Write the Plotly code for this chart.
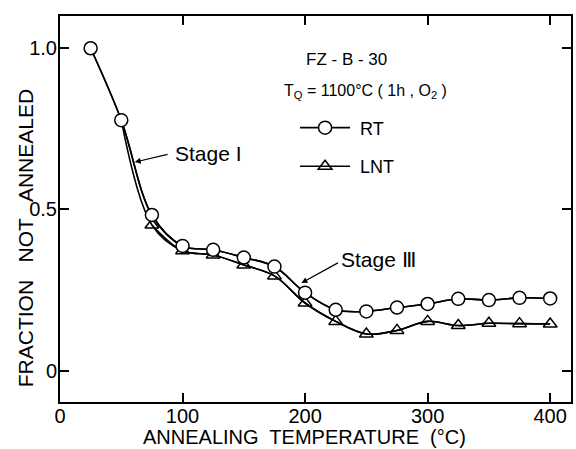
import plotly.graph_objects as go

temp_rt = [25, 50, 75, 100, 125, 150, 175, 200, 225, 250, 275, 300, 325, 350, 375, 400]
frac_rt = [1.0, 0.777, 0.483, 0.387, 0.375, 0.351, 0.323, 0.242, 0.189, 0.184, 0.196, 0.207, 0.223, 0.219, 0.226, 0.224]

temp_lnt = [75, 100, 125, 150, 175, 200, 225, 250, 275, 300, 325, 350, 375, 400]
frac_lnt = [0.452, 0.372, 0.359, 0.328, 0.294, 0.210, 0.153, 0.114, 0.125, 0.153, 0.140, 0.147, 0.146, 0.145]

x_ticks = [0, 100, 200, 300, 400]
y_ticks = [0, 0.5, 1.0]
y_tick_labels = ["0", "0.5", "1.0"]

FONT = "Liberation Sans"
FS = 20
fig = go.Figure()

# LNT line joins RT curve at 50 °C
fig.add_trace(go.Scatter(
    x=[temp_rt[1]] + temp_lnt, y=[frac_rt[1]] + frac_lnt,
    mode="lines", line=dict(color="black", width=1.6, shape="spline", smoothing=1.0),
    showlegend=False, hoverinfo="skip"))
fig.add_trace(go.Scatter(
    x=temp_rt, y=frac_rt, mode="lines",
    line=dict(color="black", width=1.6, shape="spline", smoothing=1.0),
    showlegend=False, hoverinfo="skip"))
fig.add_trace(go.Scatter(
    x=temp_lnt, y=frac_lnt, mode="lines+markers", name="\u00a0LNT", legend="legend2",
    line=dict(color="black", width=1.6, shape="spline", smoothing=1.0),
    marker=dict(symbol="triangle-up-open", size=12, color="black", line=dict(width=1.5))))
fig.add_trace(go.Scatter(
    x=temp_rt, y=frac_rt, mode="lines+markers", name="\u00a0RT", legend="legend",
    line=dict(color="black", width=1.6, shape="spline", smoothing=1.0),
    marker=dict(symbol="circle", size=13, color="white", line=dict(width=1.5, color="black"))))

axis_common = dict(showline=True, linecolor="black", linewidth=2, mirror="ticks",
                   ticks="inside", ticklen=9, tickwidth=1.5, tickcolor="black",
                   showgrid=False, zeroline=False,
                   tickfont=dict(family=FONT, size=FS, color="black"))

fig.update_xaxes(range=[0, 417], tickvals=x_ticks, ticklabelstandoff=-5, **axis_common)
fig.update_yaxes(range=[-0.097, 1.1], tickvals=y_ticks, ticktext=y_tick_labels,
                 ticklabelstandoff=-3, **axis_common)

# axis titles
fig.add_annotation(xref="paper", yref="paper", x=0.4776, y=-0.0907, yanchor="middle",
                   text="ANNEALING  TEMPERATURE  (°C)", showarrow=False,
                   font=dict(family=FONT, size=FS, color="black"))
fig.add_annotation(xref="paper", yref="paper", x=-0.066, y=0.425, textangle=-90,
                   xanchor="center", yanchor="middle",
                   text="FRACTION   NOT   ANNEALED", showarrow=False,
                   font=dict(family=FONT, size=21, color="black"))

fig.add_annotation(xref="paper", yref="paper", x=0.56, y=0.917, text="FZ - B - 30",
                   showarrow=False, font=dict(family=FONT, size=17, color="black"))
fig.add_annotation(xref="paper", yref="paper", x=0.598, y=0.834,
                   text="T<sub>Q</sub> = 1100°C ( 1h , O<sub>2</sub> )",
                   showarrow=False, font=dict(family=FONT, size=16, color="black"))

fig.add_annotation(x=61, y=0.647, ax=89, ay=0.672, xref="x", yref="y", axref="x", ayref="y",
                   text="", showarrow=True, arrowhead=2, arrowsize=1, arrowwidth=1.2, arrowcolor="black")
fig.add_annotation(x=92, y=0.675, xref="x", yref="y", xanchor="left", text="Stage I",
                   showarrow=False, font=dict(family=FONT, size=21, color="black"))
fig.add_annotation(x=197, y=0.272, ax=228, ay=0.337, xref="x", yref="y", axref="x", ayref="y",
                   text="", showarrow=True, arrowhead=2, arrowsize=1, arrowwidth=1.2, arrowcolor="black")
fig.add_annotation(x=228, y=0.344, xref="x", yref="y", xanchor="left", text="Stage Ⅲ",
                   showarrow=False, font=dict(family=FONT, size=21, color="black"))

legend_common = dict(bgcolor="rgba(0,0,0,0)", font=dict(family=FONT, size=18, color="black"),
                     itemwidth=50, xanchor="left", yanchor="middle")
fig.update_layout(
    width=576, height=449,
    margin=dict(l=60, r=3, t=16, b=47),
    paper_bgcolor="white", plot_bgcolor="white",
    legend=dict(x=0.46, y=0.71, **legend_common),
    legend2=dict(x=0.46, y=0.61, **legend_common),
)

fig.write_html("out.html")
